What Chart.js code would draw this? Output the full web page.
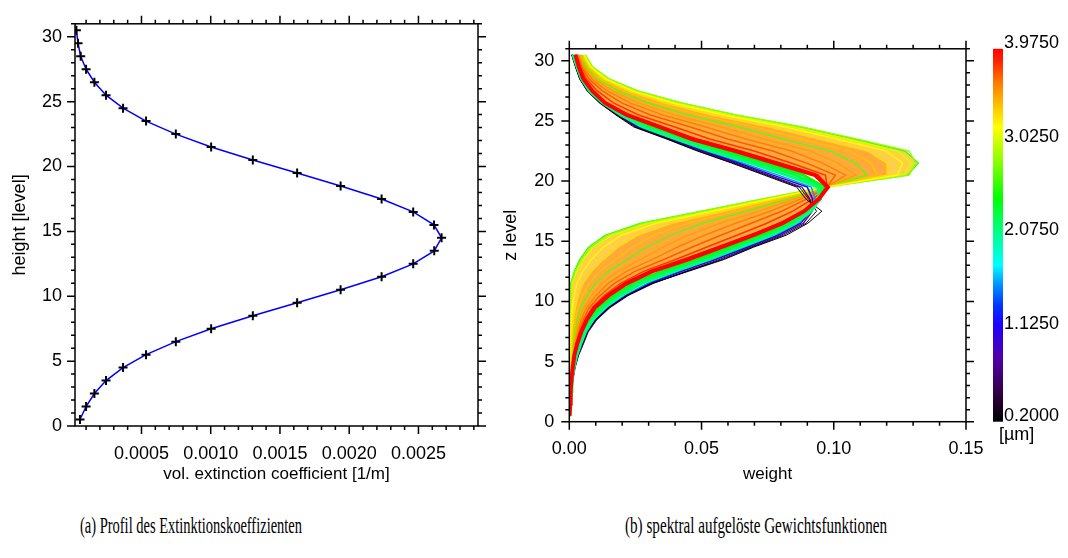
<!DOCTYPE html>
<html><head><meta charset="utf-8">
<script src="https://cdn.jsdelivr.net/npm/chart.js@4.4.1/dist/chart.umd.min.js"></script>
<style>
html,body{margin:0;padding:0;background:#fff;}
#wrap{position:relative;width:1068px;height:558px;overflow:hidden;background:#fff;}
#c1{position:absolute;left:0;top:0;}
#c2{position:absolute;left:500px;top:0;}
.cap{position:absolute;top:510px;font-family:"Liberation Serif","DejaVu Serif",serif;font-size:24px;line-height:30px;white-space:nowrap;color:#000;transform-origin:0 0;}
</style></head><body>
<div id="wrap">
<canvas id="c1" width="520" height="500"></canvas>
<canvas id="c2" width="568" height="500"></canvas>
<div class="cap" id="capA">(a) Profil des Extinktionskoeffizienten</div>
<div class="cap" id="capB">(b) spektral aufgelöste Gewichtsfunktionen</div>
</div>
<script>
// ---------- data ----------
const levels = [0.5,1.5,2.5,3.5,4.5,5.5,6.5,7.5,8.5,9.5,10.5,11.5,12.5,13.5,14.5,15.5,16.5,17.5,18.5,19.5,20.5,21.5,22.5,23.5,24.5,25.5,26.5,27.5,28.5,29.5,30.5];
const extinction = [0.000056,0.000100,0.000160,0.000244,0.000367,0.000533,0.000748,0.001003,0.001304,0.001624,0.001938,0.002234,0.002462,0.002614,0.002667,0.002612,0.002462,0.002234,0.001938,0.001624,0.001304,0.001003,0.000748,0.000533,0.000367,0.000244,0.000160,0.000100,0.000061,0.000042,0.000030];

const yTickLabels = [0,5,10,15,20,25,30];
const xTicksA = [0.0005,0.0010,0.0015,0.0020,0.0025];
const xTicksB = [0.00,0.05,0.10,0.15];
const cbTicks = [0.2000,1.1250,2.0750,3.0250,3.9750];

// spectral weighting functions (weight per level), one array per wavelength [µm]
const w0200 = [0.0002,0.0005,0.0008,0.0012,0.0020,0.0032,0.0050,0.0067,0.0100,0.0149,0.0217,0.0313,0.0450,0.0587,0.0696,0.0820,0.0902,0.0955,0.0895,0.0860,0.0737,0.0614,0.0484,0.0368,0.0244,0.0176,0.0114,0.0067,0.0039,0.0023,0.0009];
const w0450 = [0.0002,0.0005,0.0008,0.0013,0.0021,0.0033,0.0051,0.0069,0.0102,0.0152,0.0220,0.0315,0.0445,0.0580,0.0690,0.0810,0.0895,0.0935,0.0905,0.0870,0.0745,0.0620,0.0490,0.0372,0.0250,0.0179,0.0116,0.0069,0.0040,0.0024,0.0010];
const w0700 = [0.0002,0.0005,0.0008,0.0013,0.0021,0.0033,0.0052,0.0070,0.0103,0.0153,0.0222,0.0316,0.0440,0.0570,0.0685,0.0800,0.0885,0.0920,0.0910,0.0880,0.0755,0.0630,0.0498,0.0378,0.0255,0.0182,0.0118,0.0070,0.0041,0.0025,0.0010];
const w1100 = [0.0002,0.0005,0.0008,0.0013,0.0021,0.0034,0.0053,0.0071,0.0103,0.0152,0.0218,0.0305,0.0425,0.0555,0.0675,0.0790,0.0875,0.0915,0.0920,0.0900,0.0770,0.0640,0.0505,0.0380,0.0258,0.0184,0.0120,0.0071,0.0042,0.0026,0.0011];
const w1600 = [0.0002,0.0004,0.0008,0.0012,0.0020,0.0032,0.0050,0.0068,0.0099,0.0146,0.0210,0.0295,0.0415,0.0545,0.0665,0.0780,0.0865,0.0915,0.0930,0.0915,0.0790,0.0655,0.0515,0.0388,0.0263,0.0187,0.0122,0.0073,0.0043,0.0027,0.0012];
const w2150 = [0.0002,0.0004,0.0007,0.0011,0.0018,0.0028,0.0044,0.0062,0.0090,0.0133,0.0195,0.0275,0.0395,0.0530,0.0645,0.0765,0.0855,0.0915,0.0945,0.0940,0.0820,0.0685,0.0535,0.0405,0.0278,0.0195,0.0126,0.0076,0.0046,0.0029,0.0014];
const w2300 = [0.0002,0.0004,0.0007,0.0010,0.0016,0.0025,0.0039,0.0056,0.0082,0.0122,0.0180,0.0255,0.0370,0.0505,0.0625,0.0745,0.0840,0.0905,0.0950,0.0955,0.0855,0.0715,0.0565,0.0425,0.0295,0.0203,0.0130,0.0080,0.0048,0.0031,0.0017];
const w2450 = [0.0001,0.0003,0.0006,0.0009,0.0015,0.0023,0.0036,0.0052,0.0076,0.0113,0.0168,0.0240,0.0350,0.0485,0.0605,0.0725,0.0825,0.0898,0.0948,0.0965,0.0885,0.0745,0.0595,0.0445,0.0315,0.0210,0.0133,0.0084,0.0050,0.0033,0.0019];
const w2600 = [0.0001,0.0001,0.0001,0.0001,0.0001,0.0001,0.0001,0.0001,0.0001,0.0002,0.0003,0.0005,0.0019,0.0040,0.0073,0.0135,0.0270,0.0500,0.0730,0.0970,0.1280,0.1320,0.1270,0.1080,0.0874,0.0628,0.0422,0.0258,0.0149,0.0087,0.0060];
const w2850 = [0.0001,0.0001,0.0001,0.0001,0.0001,0.0001,0.0001,0.0001,0.0002,0.0003,0.0004,0.0007,0.0022,0.0046,0.0080,0.0145,0.0280,0.0505,0.0725,0.0960,0.1285,0.1310,0.1285,0.1090,0.0880,0.0630,0.0424,0.0259,0.0150,0.0088,0.0061];
const w3050 = [0.0001,0.0001,0.0001,0.0001,0.0001,0.0001,0.0002,0.0002,0.0003,0.0004,0.0006,0.0010,0.0028,0.0055,0.0092,0.0160,0.0295,0.0520,0.0740,0.0970,0.1265,0.1295,0.1240,0.1050,0.0850,0.0610,0.0410,0.0250,0.0145,0.0085,0.0058];
const w3200 = [0.0001,0.0001,0.0001,0.0002,0.0002,0.0003,0.0004,0.0006,0.0008,0.0012,0.0019,0.0028,0.0051,0.0085,0.0128,0.0197,0.0329,0.0543,0.0753,0.0971,0.1241,0.1260,0.1199,0.1012,0.0815,0.0583,0.0390,0.0239,0.0138,0.0081,0.0056];
const w3300 = [0.0001,0.0001,0.0002,0.0003,0.0004,0.0005,0.0007,0.0011,0.0016,0.0023,0.0035,0.0052,0.0084,0.0130,0.0183,0.0258,0.0388,0.0585,0.0777,0.0972,0.1203,0.1201,0.1129,0.0944,0.0757,0.0538,0.0359,0.0220,0.0128,0.0076,0.0052];
const w3400 = [0.0001,0.0002,0.0002,0.0003,0.0005,0.0007,0.0011,0.0016,0.0023,0.0033,0.0051,0.0075,0.0116,0.0175,0.0238,0.0320,0.0447,0.0628,0.0800,0.0972,0.1164,0.1141,0.1058,0.0876,0.0698,0.0492,0.0327,0.0202,0.0117,0.0070,0.0048];
const w2700 = [0.0001,0.0002,0.0003,0.0004,0.0006,0.0009,0.0014,0.0021,0.0030,0.0044,0.0067,0.0098,0.0148,0.0220,0.0293,0.0382,0.0506,0.0671,0.0824,0.0973,0.1126,0.1082,0.0988,0.0809,0.0639,0.0447,0.0296,0.0183,0.0107,0.0065,0.0044];
const w3500 = [0.0001,0.0002,0.0003,0.0005,0.0008,0.0011,0.0017,0.0026,0.0038,0.0055,0.0085,0.0124,0.0184,0.0270,0.0353,0.0449,0.0570,0.0717,0.0849,0.0974,0.1083,0.1017,0.0911,0.0735,0.0575,0.0398,0.0261,0.0162,0.0095,0.0058,0.0039];
const w3600 = [0.0001,0.0002,0.0004,0.0006,0.0009,0.0013,0.0020,0.0031,0.0045,0.0066,0.0101,0.0147,0.0216,0.0315,0.0408,0.0511,0.0629,0.0760,0.0873,0.0975,0.1045,0.0957,0.0840,0.0667,0.0516,0.0353,0.0230,0.0143,0.0085,0.0053,0.0035];
const w3700 = [0.0001,0.0003,0.0004,0.0006,0.0010,0.0015,0.0024,0.0036,0.0053,0.0076,0.0117,0.0170,0.0248,0.0360,0.0463,0.0573,0.0688,0.0803,0.0896,0.0975,0.1006,0.0897,0.0769,0.0599,0.0458,0.0307,0.0198,0.0125,0.0074,0.0047,0.0031];
const w3800 = [0.0001,0.0003,0.0005,0.0007,0.0012,0.0017,0.0027,0.0041,0.0060,0.0087,0.0133,0.0194,0.0281,0.0405,0.0518,0.0634,0.0747,0.0845,0.0920,0.0976,0.0968,0.0838,0.0699,0.0531,0.0399,0.0262,0.0167,0.0106,0.0064,0.0042,0.0027];
const w3900 = [0.0001,0.0003,0.0005,0.0007,0.0012,0.0018,0.0028,0.0043,0.0063,0.0092,0.0142,0.0208,0.0302,0.0435,0.0560,0.0685,0.0798,0.0884,0.0944,0.0982,0.0940,0.0795,0.0645,0.0478,0.0352,0.0226,0.0140,0.0090,0.0055,0.0037,0.0024];
const w3975 = [0.0001,0.0003,0.0005,0.0008,0.0013,0.0019,0.0030,0.0046,0.0067,0.0097,0.0149,0.0217,0.0313,0.0450,0.0573,0.0696,0.0806,0.0888,0.0943,0.0977,0.0929,0.0778,0.0628,0.0463,0.0340,0.0217,0.0135,0.0087,0.0053,0.0036,0.0023];

// ---------- styling helpers ----------
const FONT = "'Liberation Sans', Arial, Helvetica, sans-serif";
const cmapStops = [
  [0.00,[0,0,0]],[0.08,[50,0,70]],[0.17,[80,0,170]],[0.26,[30,0,255]],[0.31,[0,50,255]],
  [0.37,[0,150,255]],[0.42,[0,255,255]],[0.49,[0,255,160]],[0.60,[0,255,0]],[0.69,[128,255,0]],
  [0.79,[255,255,0]],[0.85,[255,190,0]],[0.91,[255,120,0]],[0.97,[255,30,0]],[1.00,[255,0,0]]
];
const CB_MIN = 0.2, CB_MAX = 3.975;
function cmap(lam){
  const f = Math.max(0, Math.min(1, (lam - CB_MIN) / (CB_MAX - CB_MIN)));
  for (let i = 1; i < cmapStops.length; i++) {
    const [f1,c1] = cmapStops[i-1], [f2,c2] = cmapStops[i];
    if (f <= f2) {
      const t = (f - f1) / (f2 - f1);
      const c = c1.map((v,k)=>Math.round(v + t*(c2[k]-v)));
      return `rgb(${c[0]},${c[1]},${c[2]})`;
    }
  }
  return 'rgb(255,0,0)';
}
function pts(arr){ return levels.map((l,i)=>({x: arr[i], y: l})); }

function framePlugin(cfg){
  return {
    id: 'frameTicks',
    afterDraw(chart){
      const {ctx, chartArea: a} = chart;
      const xs = chart.scales.x, ys = chart.scales.y;
      ctx.save();
      ctx.strokeStyle = '#000';
      ctx.lineWidth = 1.5;
      ctx.beginPath();
      const k0 = Math.ceil(xs.min / cfg.xMinor - 1e-6), k1 = Math.floor(xs.max / cfg.xMinor + 1e-6);
      for (let k = k0; k <= k1; k++) {
        const p = xs.getPixelForValue(k * cfg.xMinor);
        const L = (k % cfg.xPer === 0) ? 8 : 4;
        ctx.moveTo(p, a.bottom); ctx.lineTo(p, a.bottom + L);
        ctx.moveTo(p, a.top); ctx.lineTo(p, a.top - L);
      }
      const j0 = Math.ceil(ys.min / cfg.yMinor - 1e-6), j1 = Math.floor(ys.max / cfg.yMinor + 1e-6);
      for (let j = j0; j <= j1; j++) {
        const p = ys.getPixelForValue(j * cfg.yMinor);
        const L = (j % cfg.yPer === 0) ? 8 : 4;
        ctx.moveTo(a.left, p); ctx.lineTo(a.left - L, p);
        ctx.moveTo(a.right, p); ctx.lineTo(a.right + L, p);
      }
      ctx.stroke();
      ctx.strokeRect(a.left, a.top, a.right - a.left, a.bottom - a.top);
      ctx.restore();
    }
  };
}

const tickFont = {family: FONT, size: 18};
const titleFont = {family: FONT, size: 17};

// ---------- chart (a) ----------
new Chart(document.getElementById('c1'), {
  type: 'line',
  data: { datasets: [{
    data: pts(extinction),
    borderColor: '#0000ff', borderWidth: 1.5, tension: 0, fill: false,
    pointStyle: 'cross', pointRadius: 4.5, pointBorderColor: '#000', pointBorderWidth: 2,
    pointBackgroundColor: '#000'
  }]},
  options: {
    indexAxis: 'y', responsive: false, animation: false, events: [],
    layout: {padding: {top: 23, right: 42, left: 0, bottom: 0}},
    plugins: {legend: {display: false}, tooltip: {enabled: false}},
    scales: {
      x: {
        type: 'linear', position: 'bottom', min: 0.00002, max: 0.00293,
        grid: {display: false, drawTicks: false}, border: {display: false},
        ticks: {font: tickFont, color: '#000', padding: 17, maxRotation: 0, autoSkip: false,
                callback: v => Number(v).toFixed(4)},
        afterBuildTicks: s => { s.ticks = xTicksA.map(v => ({value: v})); },
        afterFit: s => { s.height = 74; },
        title: {display: true, text: 'vol. extinction coefficient [1/m]', font: titleFont, color: '#000', padding: {top: 0, bottom: 15}}
      },
      y: {
        type: 'linear', position: 'left', min: 0, max: 31,
        grid: {display: false, drawTicks: false}, border: {display: false},
        ticks: {font: tickFont, color: '#000', padding: 13, autoSkip: false},
        afterBuildTicks: s => { s.ticks = yTickLabels.map(v => ({value: v})); },
        afterFit: s => { s.width = 75; },
        title: {display: true, text: 'height [level]', font: {family: FONT, size: 18}, color: '#000', padding: {top: 9, bottom: 0}}
      }
    }
  },
  plugins: [framePlugin({xMinor: 0.0001, xPer: 5, yMinor: 1, yPer: 5})]
});

// ---------- chart (b) ----------
const series = [
  {lam: 0.200, w: w0200, bw: 1.0, order: 3},
  {lam: 0.450, w: w0450, bw: 1.0, order: 3},
  {lam: 0.700, w: w0700, bw: 1.2, order: 3},
  {lam: 1.100, w: w1100, bw: 1.5, order: 3},
  {lam: 1.600, w: w1600, bw: 1.5, order: 3},
  {lam: 2.150, w: w2150, bw: 3.0, order: 2},
  {lam: 2.300, w: w2300, bw: 3.0, order: 2},
  {lam: 2.450, w: w2450, bw: 3.0, order: 2},
  {lam: 2.600, w: w2600, bw: 1.3, order: 7, fillTo: 'w3300', fillColor: '#ffcf4a'},
  {lam: 2.850, w: w2850, bw: 1.3, order: 5},
  {lam: 3.050, w: w3050, bw: 1.5, order: 5},
  {lam: 3.200, w: w3200, bw: 1.5, order: 4},
  {lam: 3.300, w: w3300, bw: 1.5, order: 6, fillTo: 'w3975', fillColor: '#ffa83c'},
  {lam: 3.400, w: w3400, bw: 1.5, order: 4},
  {lam: 2.700, w: w2700, bw: 1.3, order: 4},
  {lam: 3.500, w: w3500, bw: 1.5, order: 4},
  {lam: 3.600, w: w3600, bw: 1.5, order: 4},
  {lam: 3.700, w: w3700, bw: 1.5, order: 4},
  {lam: 3.800, w: w3800, bw: 1.5, order: 4},
  {lam: 3.900, w: w3900, bw: 2.0, order: 1},
  {lam: 3.975, w: w3975, bw: 4.0, order: 0}
];
const nameIndex = {w3300: 12, w3975: series.length - 1};
const datasets = series.map(s => ({
  data: pts(s.w),
  borderColor: cmap(s.lam), borderWidth: s.bw, tension: 0, pointRadius: 0,
  order: s.order,
  fill: s.fillTo ? {target: nameIndex[s.fillTo], above: s.fillColor, below: s.fillColor} : false
}));

const colorbarPlugin = {
  id: 'colorbar',
  afterDraw(chart){
    const {ctx, chartArea: a} = chart;
    const cb = chart.scales.cb;
    const y0 = cb.getPixelForValue(CB_MIN), y1 = cb.getPixelForValue(CB_MAX);
    const x0 = a.right + 27, w = 10;
    const g = ctx.createLinearGradient(0, y0, 0, y1);
    cmapStops.forEach(([f,c]) => g.addColorStop(f, `rgb(${c[0]},${c[1]},${c[2]})`));
    ctx.save();
    ctx.fillStyle = g;
    ctx.fillRect(x0, y1, w, y0 - y1);
    ctx.fillStyle = '#000';
    ctx.font = `18px ${FONT}`;
    ctx.textAlign = 'left'; ctx.textBaseline = 'middle';
    ctx.fillText('[µm]', a.right + 33, y0 + 13);
    ctx.restore();
  }
};

new Chart(document.getElementById('c2'), {
  type: 'line',
  data: {datasets},
  options: {
    indexAxis: 'y', responsive: false, animation: false, events: [],
    layout: {padding: {top: 24.3, right: 0, left: 0, bottom: 0}},
    plugins: {legend: {display: false}, tooltip: {enabled: false}, filler: {propagate: false}},
    scales: {
      x: {
        type: 'linear', position: 'bottom', min: 0, max: 0.15,
        grid: {display: false, drawTicks: false}, border: {display: false},
        ticks: {font: tickFont, color: '#000', padding: 17, maxRotation: 0, autoSkip: false,
                callback: v => Number(v).toFixed(2)},
        afterBuildTicks: s => { s.ticks = xTicksB.map(v => ({value: v})); },
        afterFit: s => { s.height = 78.3; },
        title: {display: true, text: 'weight', font: titleFont, color: '#000', padding: {top: 0, bottom: 15}}
      },
      y: {
        type: 'linear', position: 'left', min: 0, max: 31,
        grid: {display: false, drawTicks: false}, border: {display: false},
        ticks: {font: tickFont, color: '#000', padding: 15, autoSkip: false},
        afterBuildTicks: s => { s.ticks = yTickLabels.map(v => ({value: v})); },
        afterFit: s => { s.width = 69.3; },
        title: {display: true, text: 'z level', font: {family: FONT, size: 18}, color: '#000', padding: {top: 0, bottom: 0}}
      },
      cb: {
        type: 'linear', position: 'right', min: CB_MIN, max: CB_MAX,
        grid: {display: false, drawTicks: false}, border: {display: false},
        ticks: {font: tickFont, color: '#000', padding: 38, labelOffset: -6, autoSkip: false,
                callback: v => Number(v).toFixed(4)},
        afterBuildTicks: s => { s.ticks = cbTicks.map(v => ({value: v})); },
        afterFit: s => { s.width = 102; }
      }
    }
  },
  plugins: [framePlugin({xMinor: 0.01, xPer: 5, yMinor: 1, yPer: 5}), colorbarPlugin]
});

// ---------- captions ----------
function fitCaption(id, left, width){
  const el = document.getElementById(id);
  const w = el.getBoundingClientRect().width;
  el.style.left = left + 'px';
  el.style.transform = 'scaleX(' + (width / w) + ')';
}
fitCaption('capA', 80, 222);
fitCaption('capB', 625, 262);
</script>
</body></html>
